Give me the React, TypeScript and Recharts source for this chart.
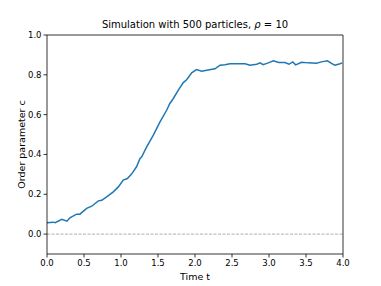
import React from 'react'
import { LineChart, Line, XAxis, YAxis, ReferenceLine } from 'recharts'

const times = [
  0, 0.085, 0.11, 0.2, 0.27, 0.31, 0.4, 0.445, 0.536, 0.604, 0.694, 0.74, 0.806, 0.896, 0.964,
  1.03, 1.086, 1.14, 1.21, 1.257, 1.28, 1.347, 1.437, 1.527, 1.617, 1.66, 1.707, 1.775, 1.842,
  1.887, 1.955, 2.02, 2.09, 2.158, 2.27, 2.338, 2.405, 2.473, 2.585, 2.676, 2.743, 2.834, 2.88,
  2.92, 2.99, 3.06, 3.13, 3.216, 3.27, 3.32, 3.36, 3.44, 3.53, 3.64, 3.71, 3.79, 3.85, 3.89,
  3.96, 3.99,
]
const order = [
  0.057, 0.06, 0.057, 0.074, 0.065, 0.082, 0.1, 0.1, 0.129, 0.14, 0.167, 0.17, 0.187, 0.212, 0.237,
  0.271, 0.279, 0.3, 0.338, 0.38, 0.388, 0.438, 0.497, 0.564, 0.622, 0.656, 0.681, 0.723, 0.761,
  0.775, 0.81, 0.826, 0.818, 0.823, 0.83, 0.848, 0.851, 0.856, 0.855, 0.856, 0.848, 0.853, 0.86,
  0.851, 0.86, 0.87, 0.862, 0.862, 0.853, 0.865, 0.85, 0.863, 0.86, 0.858, 0.865, 0.87, 0.856, 0.848,
  0.856, 0.86,
]
const xTicks = [0, 0.5, 1, 1.5, 2, 2.5, 3, 3.5, 4]
const yTicks = [0, 0.2, 0.4, 0.6, 0.8, 1.0]

const data = times.map((t, i) => ({ t, c: order[i] }))

const font = 'DejaVu Sans'
const tickStyle = { fontSize: 8.5, fill: '#000', fontFamily: font }

const App = () => {
  return (
    <div style={{ position: 'absolute', left: 0, top: 0, width: 381, height: 286, background: '#fff' }}>
      <div
        style={{
          position: 'absolute', left: 47, width: 296, top: 19, textAlign: 'center',
          fontFamily: font, fontSize: 10, color: '#000', zIndex: 1,
        }}
      >
        Simulation with 500 particles, <i>ρ</i> = 10
      </div>
      <LineChart width={381} height={286} data={data} margin={{ top: 35, right: 38, left: 0, bottom: 0 }}>
        <XAxis
          dataKey="t" type="number" domain={[0, 4]} ticks={xTicks} height={32}
          tickFormatter={(v: number) => v.toFixed(1)} tick={tickStyle}
          tickSize={3.5} tickMargin={2} stroke="#000" axisLine={{ stroke: '#000', strokeWidth: 0.8 }}
          tickLine={{ stroke: '#000', strokeWidth: 0.8 }}
          label={{ value: 'Time t', position: 'insideBottom', offset: 6, fontSize: 9.5, fill: '#000', fontFamily: font }}
        />
        <YAxis
          type="number" domain={[-0.1, 1.0]} ticks={yTicks} width={47}
          tickFormatter={(v: number) => v.toFixed(1)} tick={tickStyle}
          tickSize={3.5} tickMargin={2} axisLine={{ stroke: '#000', strokeWidth: 0.8 }}
          tickLine={{ stroke: '#000', strokeWidth: 0.8 }}
          label={{ value: 'Order parameter c', angle: -90, position: 'center', dx: -2, fontSize: 9.5, fill: '#000', fontFamily: font }}
        />
        <ReferenceLine y={0} stroke="#999" strokeWidth={0.8} strokeDasharray="3 1.5" />
        <ReferenceLine y={1} stroke="#000" strokeWidth={0.8} />
        <ReferenceLine x={4} stroke="#000" strokeWidth={0.8} />
        <Line dataKey="c" type="linear" stroke="#1f77b4" strokeWidth={1.5} dot={false} isAnimationActive={false} />
      </LineChart>
    </div>
  )
}

export default App
